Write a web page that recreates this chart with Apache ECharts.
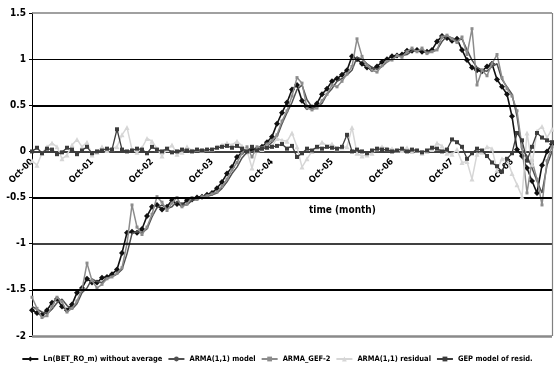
<!DOCTYPE html>
<html>
<head>
<meta charset="utf-8">
<script src="https://cdn.jsdelivr.net/npm/echarts@6/dist/echarts.min.js"></script>
<style>
  html, body { margin: 0; padding: 0; background: #fff; }
  #chart { width: 554px; height: 376px; }
</style>
</head>
<body>
<div id="chart"></div>
<script>
// Monthly observations, Oct-00 .. Jun-09
const MONTH_NAMES = ['Jan','Feb','Mar','Apr','May','Jun','Jul','Aug','Sep','Oct','Nov','Dec'];
const START_YEAR = 2000, START_MONTH = 9, N_MONTHS = 105;
const months = [];
for (let k = 0; k < N_MONTHS; k++) {
  const m = (START_MONTH + k) % 12;
  const y = START_YEAR + Math.floor((START_MONTH + k) / 12);
  months.push(MONTH_NAMES[m] + '-' + String(y % 100).padStart(2, '0'));
}

// Ln(BET_RO_m) without average
const lnBet = [
  -1.72, -1.75, -1.77, -1.72, -1.64, -1.60, -1.68, -1.72, -1.66, -1.53,
  -1.48, -1.38, -1.42, -1.42, -1.37, -1.36, -1.33, -1.28, -1.10, -0.88,
  -0.87, -0.88, -0.84, -0.70, -0.60, -0.58, -0.63, -0.60, -0.53, -0.57,
  -0.58, -0.53, -0.52, -0.50, -0.49, -0.47, -0.45, -0.40, -0.33, -0.24,
  -0.17, -0.06, -0.01, 0.00, 0.02, 0.03, 0.05, 0.10, 0.16, 0.30,
  0.42, 0.53, 0.67, 0.72, 0.55, 0.48, 0.48, 0.52, 0.62, 0.68,
  0.76, 0.79, 0.83, 0.88, 1.03, 1.00, 0.95, 0.91, 0.89, 0.92,
  0.97, 1.00, 1.03, 1.04, 1.05, 1.09, 1.09, 1.10, 1.08, 1.08,
  1.10, 1.19, 1.25, 1.23, 1.20, 1.22, 1.10, 0.99, 0.91, 0.88,
  0.87, 0.92, 0.95, 0.78, 0.70, 0.62, 0.38, 0.02, -0.05, -0.18,
  -0.32, -0.45, -0.15, 0.00, 0.08
];

// ARMA(1,1) model
const armaModel = [
  -1.68, -1.71, -1.74, -1.76, -1.71, -1.64, -1.60, -1.67, -1.71, -1.65,
  -1.53, -1.48, -1.38, -1.41, -1.42, -1.37, -1.36, -1.33, -1.28, -1.11,
  -0.89, -0.87, -0.88, -0.84, -0.71, -0.61, -0.58, -0.62, -0.60, -0.54,
  -0.57, -0.58, -0.53, -0.52, -0.50, -0.49, -0.47, -0.45, -0.40, -0.33,
  -0.24, -0.17, -0.07, -0.01, 0.00, 0.02, 0.03, 0.05, 0.10, 0.16,
  0.30, 0.42, 0.53, 0.67, 0.72, 0.56, 0.48, 0.48, 0.52, 0.62,
  0.68, 0.76, 0.79, 0.83, 0.88, 1.02, 1.00, 0.95, 0.91, 0.89,
  0.92, 0.97, 1.00, 1.03, 1.04, 1.05, 1.09, 1.09, 1.10, 1.08,
  1.08, 1.10, 1.19, 1.25, 1.23, 1.20, 1.22, 1.10, 0.99, 0.91,
  0.88, 0.87, 0.92, 0.95, 0.78, 0.70, 0.62, 0.38, 0.02, -0.05,
  -0.18, -0.32, -0.45, -0.15, 0.00
];

// ARMA_GEF-2
const armaGef2 = [
  -1.58, -1.70, -1.80, -1.78, -1.68, -1.58, -1.63, -1.74, -1.70, -1.62,
  -1.50, -1.21, -1.40, -1.48, -1.44, -1.38, -1.36, -1.32, -1.26, -1.00,
  -0.58, -0.82, -0.90, -0.82, -0.68, -0.49, -0.55, -0.64, -0.56, -0.50,
  -0.60, -0.57, -0.50, -0.52, -0.49, -0.48, -0.46, -0.44, -0.38, -0.30,
  -0.20, -0.12, -0.02, 0.05, -0.06, 0.05, 0.04, 0.08, 0.12, 0.18,
  0.33, 0.44, 0.60, 0.80, 0.74, 0.47, 0.45, 0.47, 0.55, 0.62,
  0.72, 0.70, 0.76, 0.84, 0.92, 1.22, 1.03, 0.93, 0.88, 0.86,
  0.93, 0.98, 0.99, 1.04, 1.02, 1.08, 1.12, 1.08, 1.12, 1.06,
  1.08, 1.10, 1.24, 1.26, 1.22, 1.18, 1.24, 1.05, 1.33, 0.72,
  0.88, 0.82, 0.95, 1.05, 0.80, 0.68, 0.60, 0.44, 0.05, -0.45,
  -0.10, -0.30, -0.58, -0.10, 0.05
];

// ARMA(1,1) residual
const armaResid = [
  -0.10, -0.15, -0.02, 0.05, 0.09, 0.05, -0.08, -0.04, 0.07, 0.13,
  0.05, 0.10, -0.04, -0.01, 0.05, 0.01, 0.03, 0.05, 0.18, 0.26,
  0.02, -0.01, 0.04, 0.14, 0.11, 0.03, -0.05, 0.02, 0.07, -0.03,
  -0.01, 0.05, 0.01, 0.02, 0.01, 0.02, 0.02, 0.05, 0.07, 0.09,
  0.07, 0.11, 0.06, 0.01, -0.18, 0.01, 0.02, 0.05, 0.06, 0.14,
  0.12, 0.11, 0.20, 0.05, -0.17, -0.08, 0.00, 0.04, 0.10, 0.06,
  0.08, 0.03, 0.04, 0.05, 0.26, -0.02, -0.05, -0.04, -0.02, 0.03,
  0.05, 0.03, 0.03, 0.01, 0.01, 0.04, 0.00, 0.01, -0.02, 0.00,
  0.02, 0.09, 0.06, -0.02, -0.03, 0.02, -0.12, -0.11, -0.30, -0.03,
  -0.01, 0.05, 0.03, -0.20, -0.08, -0.08, -0.24, -0.36, -0.49, 0.20,
  -0.14, 0.22, 0.27, 0.15, 0.24
];

// GEP model of resid.
const gepResid = [
  0.00, 0.04, -0.02, 0.03, 0.02, -0.03, -0.01, 0.04, 0.02, -0.03,
  0.01, 0.05, -0.02, 0.00, 0.01, 0.03, 0.02, 0.24, 0.02, 0.00,
  0.01, 0.03, 0.02, -0.02, 0.05, 0.02, 0.00, 0.03, -0.01, 0.00,
  0.02, 0.01, 0.00, 0.02, 0.01, 0.02, 0.02, 0.04, 0.05, 0.06,
  0.04, 0.06, 0.03, 0.00, 0.05, 0.01, 0.03, 0.04, 0.05, 0.06,
  0.08, 0.03, 0.06, -0.06, -0.02, 0.03, 0.01, 0.05, 0.03, 0.05,
  0.04, 0.03, 0.05, 0.18, 0.00, 0.02, 0.00, -0.02, 0.01, 0.03,
  0.02, 0.02, 0.00, 0.01, 0.03, 0.00, 0.02, 0.01, -0.01, 0.01,
  0.04, 0.03, 0.00, 0.02, 0.13, 0.10, 0.05, -0.08, -0.02, 0.03,
  0.01, -0.05, -0.12, -0.16, -0.22, -0.08, -0.02, 0.20, 0.12, -0.10,
  0.05, 0.20, 0.15, 0.12, 0.10
];

const yTicks = [1.5, 1, 0.5, 0, -0.5, -1, -1.5, -2];
const FONT = '"Liberation Sans Narrow", "DejaVu Sans Condensed", "Liberation Sans", Arial, sans-serif';

const Y_MIN = -2, Y_MAX = 1.5;
const GRID = { left: 32, right: 2, top: 13, bottom: 40 };
const PLOT_H = 376 - GRID.top - GRID.bottom;
// height of the band below the zero level
const BELOW_ZERO = PLOT_H * (0 - Y_MIN) / (Y_MAX - Y_MIN);

const chart = echarts.init(document.getElementById('chart'), null, { renderer: 'canvas' });

// Horizontal reference lines: heavier at the half-steps, grey frame at top and bottom
const refLines = [
  { yAxis: 1.5, lineStyle: { color: '#808080', width: 1.5, type: 'solid' } },
  { yAxis: 1, lineStyle: { color: '#000', width: 1, type: 'solid' } },
  { yAxis: 0.5, lineStyle: { color: '#000', width: 2, type: 'solid' } },
  { yAxis: -0.5, lineStyle: { color: '#000', width: 2, type: 'solid' } },
  { yAxis: -1, lineStyle: { color: '#000', width: 1.5, type: 'solid' } },
  { yAxis: -1.5, lineStyle: { color: '#000', width: 2, type: 'solid' } },
  { yAxis: -2, lineStyle: { color: '#8a8a8a', width: 2.5, type: 'solid' } },
  { xAxis: months[months.length - 1], lineStyle: { color: '#808080', width: 1.2, type: 'solid' } }
];

function lineSeries(name, data, color, width, symbol, symbolSize, z) {
  return {
    name, type: 'line', data,
    xAxisIndex: 0, yAxisIndex: 0,
    symbol, symbolSize, showSymbol: symbol !== 'none', showAllSymbol: true,
    itemStyle: { color },
    lineStyle: { color, width },
    emphasis: { disabled: true },
    animation: false, z
  };
}

const series = [
  Object.assign(lineSeries('Ln(BET_RO_m) without average', lnBet, '#111111', 1.6, 'diamond', 6, 2), {
    markLine: {
      silent: true, symbol: 'none', label: { show: false }, animation: false,
      emphasis: { disabled: true },
      data: refLines
    }
  }),
  lineSeries('ARMA(1,1) model', armaModel, '#505050', 1.5, 'none', 0, 3),
  lineSeries('ARMA_GEF-2', armaGef2, '#8c8c8c', 1.5, 'rect', 3, 4),
  lineSeries('ARMA(1,1) residual', armaResid, '#d6d6d6', 1.5, 'triangle', 5, 5),
  lineSeries('GEP model of resid.', gepResid, '#3c3c3c', 1.3, 'rect', 4, 6)
];

chart.setOption({
  backgroundColor: '#fff',
  animation: false,
  grid: [
    Object.assign({ containLabel: false }, GRID),
    // upper half of the plot; its bottom edge carries the month labels at zero
    { left: GRID.left, right: GRID.right, top: GRID.top, bottom: GRID.bottom + BELOW_ZERO, containLabel: false }
  ],
  legend: {
    bottom: 8, left: 'center',
    itemWidth: 16, itemHeight: 6, itemGap: 5,
    textStyle: { fontFamily: FONT, fontSize: 7.5, fontWeight: 'bold', color: '#000' },
    data: series.map(s => s.name)
  },
  xAxis: [{
    type: 'category', gridIndex: 0,
    data: months,
    boundaryGap: false,
    axisLine: { onZero: true, lineStyle: { color: '#000', width: 1.5 } },
    axisTick: { show: false },
    axisLabel: { show: false },
    splitLine: { show: false }
  }, {
    type: 'category', gridIndex: 1,
    data: months,
    boundaryGap: false,
    position: 'bottom',
    axisLine: { show: false },
    axisTick: { show: false },
    splitLine: { show: false },
    axisLabel: {
      rotate: 45, margin: 9,
      interval: (idx) => idx % 12 === 0,
      fontFamily: FONT, fontSize: 9, fontWeight: 'bold', color: '#000'
    }
  }],
  yAxis: [{
    type: 'value', gridIndex: 0,
    min: Y_MIN, max: Y_MAX, interval: 0.5,
    axisLine: { show: true, lineStyle: { color: '#000', width: 1 } },
    axisTick: { show: true, length: 3, lineStyle: { color: '#000' } },
    splitLine: { show: false },
    axisLabel: {
      margin: 6,
      formatter: (v) => (yTicks.includes(v) ? String(v) : ''),
      fontFamily: FONT, fontSize: 10, fontWeight: 'bold', color: '#000'
    }
  }, {
    type: 'value', gridIndex: 1, show: false, min: 0, max: 1
  }],
  graphic: [{
    type: 'text', left: 309, top: 205,
    style: { text: 'time (month)', fontFamily: FONT, fontSize: 10, fontWeight: 'bold', fill: '#000' }
  }],
  series
});
</script>
</body>
</html>
